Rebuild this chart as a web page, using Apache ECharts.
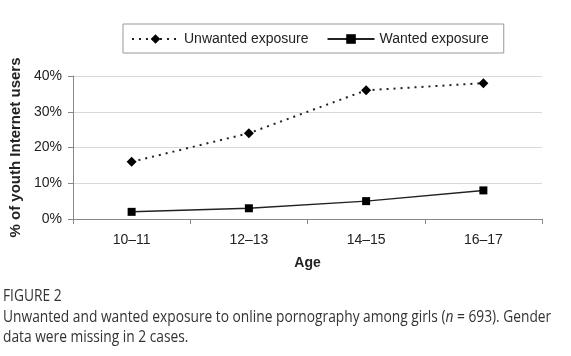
<!DOCTYPE html>
<html>
<head>
<meta charset="utf-8">
<script src="https://cdn.jsdelivr.net/npm/echarts@6/dist/echarts.min.js"></script>
<style>
html,body{margin:0;padding:0;background:#fff;}
#c{width:571px;height:356px;}
</style>
</head>
<body>
<div id="c"></div>
<script>
var categories = ['10\u201311', '12\u201313', '14\u201315', '16\u201317'];
var unwanted = [16, 24, 36, 38];
var wanted = [2, 3, 5, 8];
var yTicks = [0, 10, 20, 30, 40];

var FONT = 'Liberation Sans, Arial, sans-serif';
var chart = echarts.init(document.getElementById('c'), null, {renderer: 'canvas'});
chart.setOption({
  backgroundColor: '#fff',
  animation: false,
  textStyle: {fontFamily: FONT},
  legend: {
    orient: 'horizontal',
    left: 123, top: 24,
    padding: [8, 15, 7, 8],
    borderColor: '#999', borderWidth: 1,
    itemWidth: 47, itemHeight: 12, itemGap: 18,
    textStyle: {fontSize: 14, color: '#222', fontFamily: FONT},
    data: ['Unwanted exposure', 'Wanted exposure']
  },
  grid: {left: 73, right: 29, top: 76, bottom: 137, containLabel: false},
  xAxis: {
    type: 'category',
    data: categories,
    boundaryGap: true,
    name: 'Age',
    nameLocation: 'middle',
    nameGap: 37,
    nameTextStyle: {fontSize: 14, fontWeight: 'bold', color: '#222', fontFamily: FONT},
    axisLine: {lineStyle: {color: '#888', width: 1}},
    axisTick: {show: true, length: 5, lineStyle: {color: '#888'}},
    axisLabel: {fontSize: 14, color: '#222', margin: 14, fontFamily: FONT}
  },
  yAxis: {
    type: 'value',
    min: yTicks[0], max: yTicks[yTicks.length - 1], interval: 10,
    name: '% of youth Internet users',
    nameLocation: 'middle',
    nameGap: 50,
    nameTextStyle: {fontSize: 15, fontWeight: 'bold', color: '#222', fontFamily: FONT},
    axisLine: {show: true, lineStyle: {color: '#888', width: 1}},
    axisTick: {show: true, length: 5, lineStyle: {color: '#888'}},
    axisLabel: {fontSize: 14, color: '#222', margin: 11, formatter: '{value}%', fontFamily: FONT},
    splitLine: {lineStyle: {color: '#d8d8d8', width: 1}}
  },
  series: [
    {
      name: 'Unwanted exposure',
      type: 'line',
      data: unwanted,
      symbol: 'diamond',
      symbolSize: 10,
      itemStyle: {color: '#000'},
      lineStyle: {color: '#222', width: 2, type: [2, 5]}
    },
    {
      name: 'Wanted exposure',
      type: 'line',
      data: wanted,
      symbol: 'rect',
      symbolSize: 8,
      itemStyle: {color: '#000'},
      lineStyle: {color: '#222', width: 1.5, type: 'solid'}
    }
  ],
  graphic: [
    {type: 'text', x: 3, y: 296, scaleX: 0.86, style: {text: 'FIGURE 2', font: '16px "Open Sans", sans-serif', fill: '#333', verticalAlign: 'middle'}},
    {type: 'text', x: 3, y: 317, scaleX: 0.86, style: {
      text: 'Unwanted and wanted exposure to online pornography among girls ({i|n} = 693). Gender',
      font: '16px "Open Sans", sans-serif', fill: '#333', verticalAlign: 'middle',
      rich: {i: {fontStyle: 'italic', fontFamily: 'Open Sans', fontSize: 16, fill: '#333'}}
    }},
    {type: 'text', x: 3, y: 337, scaleX: 0.86, style: {
      text: 'data were missing in 2 cases.',
      font: '16px "Open Sans", sans-serif', fill: '#333', verticalAlign: 'middle'
    }}
  ]
});
</script>
</body>
</html>
